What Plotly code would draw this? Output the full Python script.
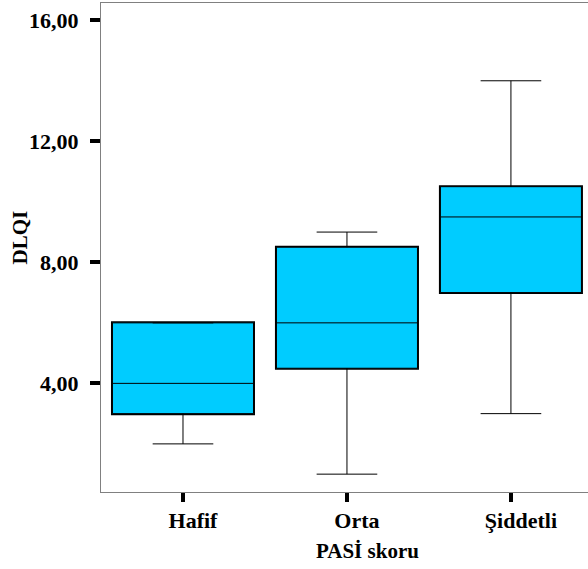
import plotly.graph_objects as go

# PASİ severity groups and DLQI box statistics
groups = ["Hafif", "Orta", "Şiddetli"]
lower_whisker = [2.0, 1.0, 3.0]
q1 = [3.0, 4.5, 7.0]
median = [4.0, 6.0, 9.5]
q3 = [6.0, 8.5, 10.5]
upper_whisker = [6.0, 9.0, 14.0]

y_ticks = [4, 8, 12, 16]

FONT = "Liberation Serif, Times New Roman, serif"
BOX_W = 0.86

fig = go.Figure()

# whiskers, median and fill
fig.add_trace(go.Box(
    x=groups,
    q1=q1,
    median=median,
    q3=q3,
    lowerfence=lower_whisker,
    upperfence=upper_whisker,
    width=BOX_W,
    whiskerwidth=0.43,
    fillcolor="#00CCFF",
    line=dict(color="black", width=1),
    boxpoints=False,
    showlegend=False,
    hoverinfo="skip",
))

# heavy outline of the boxes (Q1..Q3)
fig.add_trace(go.Bar(
    x=groups,
    y=[b - a for a, b in zip(q1, q3)],
    base=q1,
    width=BOX_W,
    marker=dict(color="rgba(0,0,0,0)", line=dict(color="black", width=3)),
    showlegend=False,
    hoverinfo="skip",
))

fig.update_layout(
    width=588,
    height=569,
    margin=dict(l=101, r=0, t=3, b=77),
    paper_bgcolor="white",
    plot_bgcolor="white",
    separators=",.",
    barmode="overlay",
    font=dict(family=FONT, color="black"),
    xaxis=dict(
        type="category",
        range=[-0.5, 2.47],
        showgrid=False,
        zeroline=False,
        showline=True,
        linecolor="#808080",
        linewidth=1,
        mirror=True,
        ticks="outside",
        ticklen=9,
        tickwidth=4,
        tickcolor="black",
        ticklabelshift=10,
        tickfont=dict(family=FONT, size=22, weight="bold", color="black"),
    ),
    yaxis=dict(
        range=[0.41, 16.57],
        tickvals=y_ticks,
        tickformat=".2f",
        showgrid=False,
        zeroline=False,
        showline=True,
        linecolor="#808080",
        linewidth=1,
        ticks="outside",
        ticklen=10,
        tickwidth=4,
        tickcolor="black",
        ticklabelstandoff=7,
        tickfont=dict(family=FONT, size=22, weight="bold", color="black"),
    ),
    annotations=[
        dict(text="<b>PASİ skoru</b>", xref="paper", yref="paper",
             x=(367 - 101) / 487, y=-(551 - 492) / 489,
             xanchor="center", yanchor="middle", showarrow=False,
             font=dict(family=FONT, size=21, color="black")),
        dict(text="<b>DLQI</b>", xref="paper", yref="paper",
             x=-(101 - 19) / 487, y=(492 - 237.5) / 489,
             xanchor="center", yanchor="middle", textangle=-90, showarrow=False,
             font=dict(family=FONT, size=21, color="black")),
    ],
)

fig.write_html("out.html")
